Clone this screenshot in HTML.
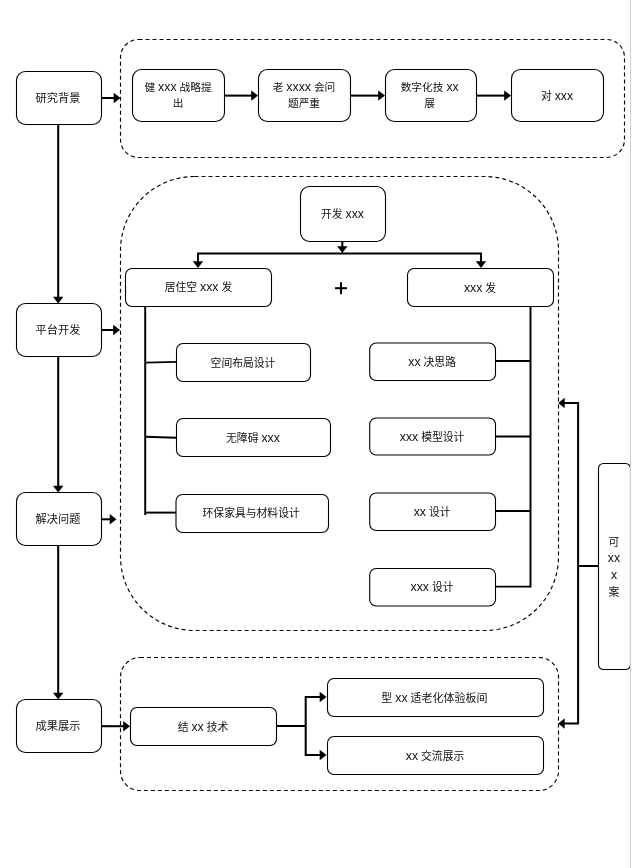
<!DOCTYPE html>
<html lang="zh-CN">
<head>
<meta charset="utf-8">
<title>流程图</title>
<style>
html,body{margin:0;padding:0;background:#fff;}
body{width:632px;height:868px;overflow:hidden;}
svg{display:block;will-change:transform;}
svg text{font-family:'Liberation Sans', 'Noto Sans CJK SC', sans-serif;fill:#111;}
</style>
</head>
<body>
<svg width="632" height="868" viewBox="0 0 632 868">
<rect x="120.5" y="39.5" width="504" height="118" rx="18" ry="18" fill="none" stroke="#000" stroke-width="1.15" stroke-dasharray="4 3"/>
<rect x="120.5" y="176.5" width="438" height="454" rx="74" ry="74" fill="none" stroke="#000" stroke-width="1.15" stroke-dasharray="4 3"/>
<rect x="120.5" y="657.5" width="438" height="133" rx="19.5" ry="19.5" fill="none" stroke="#000" stroke-width="1.15" stroke-dasharray="4 3"/>
<polyline points="58.2,124.5 58.2,298" fill="none" stroke="#000" stroke-width="2.05"/>
<polygon points="58.2,303.5 53,296.7 63.4,296.7" fill="#000"/>
<polyline points="58.2,356 58.2,487" fill="none" stroke="#000" stroke-width="2.05"/>
<polygon points="58.2,492.5 53,485.7 63.4,485.7" fill="#000"/>
<polyline points="58.2,545 58.2,694" fill="none" stroke="#000" stroke-width="2.05"/>
<polygon points="58.2,699.5 53,692.7 63.4,692.7" fill="#000"/>
<polyline points="101.5,98 115,98" fill="none" stroke="#000" stroke-width="2.05"/>
<polygon points="120.5,98 113.7,92.8 113.7,103.2" fill="#000"/>
<polyline points="101.5,330 114,330" fill="none" stroke="#000" stroke-width="2.05"/>
<polygon points="120,330 113.2,324.8 113.2,335.2" fill="#000"/>
<polyline points="101.5,519.3 111,519.3" fill="none" stroke="#000" stroke-width="2.05"/>
<polygon points="116.5,519.3 109.7,514.1 109.7,524.5" fill="#000"/>
<polyline points="101.5,726.2 125,726.2" fill="none" stroke="#000" stroke-width="2.05"/>
<polygon points="130,726.2 123.2,721 123.2,731.4" fill="#000"/>
<rect x="16.5" y="71.5" width="85" height="53" rx="9" ry="9" fill="#fff" stroke="#000" stroke-width="1.1"/>
<text x="58" y="98" text-anchor="middle" dominant-baseline="central" font-size="11.2">研究背景</text>
<rect x="16.5" y="303.5" width="85" height="53" rx="9" ry="9" fill="#fff" stroke="#000" stroke-width="1.1"/>
<text x="58" y="330" text-anchor="middle" dominant-baseline="central" font-size="11.2">平台开发</text>
<rect x="16.5" y="492.5" width="85" height="53" rx="9" ry="9" fill="#fff" stroke="#000" stroke-width="1.1"/>
<text x="58" y="519" text-anchor="middle" dominant-baseline="central" font-size="11.2">解决问题</text>
<rect x="16.5" y="699.5" width="85" height="53" rx="9" ry="9" fill="#fff" stroke="#000" stroke-width="1.1"/>
<text x="58" y="726" text-anchor="middle" dominant-baseline="central" font-size="11.2">成果展示</text>
<polyline points="224.5,95.6 252,95.6" fill="none" stroke="#000" stroke-width="2.05"/>
<polygon points="258,95.6 251.2,90.4 251.2,100.8" fill="#000"/>
<polyline points="350.5,95.6 379,95.6" fill="none" stroke="#000" stroke-width="2.05"/>
<polygon points="385,95.6 378.2,90.4 378.2,100.8" fill="#000"/>
<polyline points="476.5,95.6 505,95.6" fill="none" stroke="#000" stroke-width="2.05"/>
<polygon points="511,95.6 504.2,90.4 504.2,100.8" fill="#000"/>
<rect x="132.5" y="69.5" width="92" height="52" rx="9" ry="9" fill="#fff" stroke="#000" stroke-width="1.1"/>
<text x="178" y="87.2" text-anchor="middle" dominant-baseline="central" font-size="10.7">健 <tspan font-size="12.3">xxx</tspan> 战略提</text>
<text x="178" y="102.5" text-anchor="middle" dominant-baseline="central" font-size="10.7">出</text>
<rect x="258.5" y="69.5" width="92" height="52" rx="9" ry="9" fill="#fff" stroke="#000" stroke-width="1.1"/>
<text x="304" y="87.2" text-anchor="middle" dominant-baseline="central" font-size="10.7">老 <tspan font-size="12.3">xxxx</tspan> 会问</text>
<text x="304" y="102.5" text-anchor="middle" dominant-baseline="central" font-size="10.7">题严重</text>
<rect x="385.5" y="69.5" width="91" height="52" rx="9" ry="9" fill="#fff" stroke="#000" stroke-width="1.1"/>
<text x="429.7" y="87.2" text-anchor="middle" dominant-baseline="central" font-size="10.7">数字化技 <tspan font-size="12.3">xx</tspan></text>
<text x="429.7" y="102.5" text-anchor="middle" dominant-baseline="central" font-size="10.7">展</text>
<rect x="511.5" y="69.5" width="92" height="52" rx="9" ry="9" fill="#fff" stroke="#000" stroke-width="1.1"/>
<text x="557" y="95.5" text-anchor="middle" dominant-baseline="central" font-size="10.8">对 <tspan font-size="12.3">xxx</tspan></text>
<polyline points="342.3,241.5 342.3,247" fill="none" stroke="#000" stroke-width="2.05"/>
<polygon points="342.3,253 337.1,246.2 347.5,246.2" fill="#000"/>
<polyline points="198,263 198,253.5 481,253.5 481,263" fill="none" stroke="#000" stroke-width="1.9"/>
<polygon points="198,268 192.8,261.2 203.2,261.2" fill="#000"/>
<polygon points="481,268 475.8,261.2 486.2,261.2" fill="#000"/>
<rect x="300.5" y="186.5" width="85" height="55" rx="9" ry="9" fill="#fff" stroke="#000" stroke-width="1.1"/>
<text x="342.5" y="214" text-anchor="middle" dominant-baseline="central" font-size="10.8">开发 <tspan font-size="12.3">xxx</tspan></text>
<rect x="125.5" y="268.5" width="146" height="38" rx="6.5" ry="6.5" fill="#fff" stroke="#000" stroke-width="1.1"/>
<text x="198.5" y="287.1" text-anchor="middle" dominant-baseline="central" font-size="10.8">居住空 <tspan font-size="12.3">xxx</tspan> 发</text>
<rect x="407.5" y="268.5" width="146" height="38" rx="6.5" ry="6.5" fill="#fff" stroke="#000" stroke-width="1.1"/>
<text x="480" y="287.5" text-anchor="middle" dominant-baseline="central" font-size="10.8"><tspan font-size="12.3">xxx</tspan> 发</text>
<polyline points="335,288.2 347,288.2" fill="none" stroke="#000" stroke-width="2"/>
<polyline points="341,282.2 341,294.2" fill="none" stroke="#000" stroke-width="2"/>
<polyline points="145.2,306.5 145.2,515" fill="none" stroke="#000" stroke-width="1.95"/>
<polyline points="145.2,362.6 176.5,361.9" fill="none" stroke="#000" stroke-width="1.95"/>
<polyline points="145.2,436.8 176.5,437.7" fill="none" stroke="#000" stroke-width="1.95"/>
<polyline points="145.2,512.6 176.5,512.6" fill="none" stroke="#000" stroke-width="1.95"/>
<rect x="176.5" y="343.5" width="134" height="38" rx="6.5" ry="6.5" fill="#fff" stroke="#000" stroke-width="1.1"/>
<text x="243" y="362.5" text-anchor="middle" dominant-baseline="central" font-size="10.8">空间布局设计</text>
<rect x="176.5" y="418.5" width="154" height="38" rx="6.5" ry="6.5" fill="#fff" stroke="#000" stroke-width="1.1"/>
<text x="253" y="437.5" text-anchor="middle" dominant-baseline="central" font-size="10.8">无障碍 <tspan font-size="12.3">xxx</tspan></text>
<rect x="176" y="494.5" width="152.5" height="38" rx="6.5" ry="6.5" fill="#fff" stroke="#000" stroke-width="1.1"/>
<text x="251.15" y="512.8" text-anchor="middle" dominant-baseline="central" font-size="10.8">环保家具与材料设计</text>
<polyline points="530.5,306.5 530.5,587.5" fill="none" stroke="#000" stroke-width="1.95"/>
<polyline points="495.5,361 530.5,361" fill="none" stroke="#000" stroke-width="1.95"/>
<polyline points="495.5,436.5 530.5,436.5" fill="none" stroke="#000" stroke-width="1.95"/>
<polyline points="495.5,511 530.5,511" fill="none" stroke="#000" stroke-width="1.95"/>
<polyline points="495.5,586.6 530.5,586.6" fill="none" stroke="#000" stroke-width="1.95"/>
<rect x="369.7" y="343" width="125.8" height="37.5" rx="6.5" ry="6.5" fill="#fff" stroke="#000" stroke-width="1.1"/>
<text x="432.1" y="361.75" text-anchor="middle" dominant-baseline="central" font-size="10.8"><tspan font-size="12.3">xx</tspan> 决思路</text>
<rect x="369.7" y="418" width="125.8" height="37" rx="6.5" ry="6.5" fill="#fff" stroke="#000" stroke-width="1.1"/>
<text x="432.1" y="436.5" text-anchor="middle" dominant-baseline="central" font-size="10.8"><tspan font-size="12.3">xxx</tspan> 模型设计</text>
<rect x="369.7" y="493" width="125.8" height="37.5" rx="6.5" ry="6.5" fill="#fff" stroke="#000" stroke-width="1.1"/>
<text x="432.1" y="511.75" text-anchor="middle" dominant-baseline="central" font-size="10.8"><tspan font-size="12.3">xx</tspan> 设计</text>
<rect x="369.7" y="568.5" width="125.8" height="37.5" rx="6.5" ry="6.5" fill="#fff" stroke="#000" stroke-width="1.1"/>
<text x="432.1" y="587.25" text-anchor="middle" dominant-baseline="central" font-size="10.8"><tspan font-size="12.3">xxx</tspan> 设计</text>
<polyline points="598.5,566 578.1,566" fill="none" stroke="#000" stroke-width="2.05"/>
<polyline points="564,403 578.1,403 578.1,723.5 564,723.5" fill="none" stroke="#000" stroke-width="2.05"/>
<polygon points="558.3,403 564.7,397.8 564.7,408.2" fill="#000"/>
<polygon points="558.3,723.5 564.7,718.3 564.7,728.7" fill="#000"/>
<rect x="598.5" y="463.5" width="32" height="206" rx="5" ry="5" fill="#fff" stroke="#000" stroke-width="1.1"/>
<text x="614" y="541.5" text-anchor="middle" dominant-baseline="central" font-size="10.8">可</text>
<text x="614" y="558.3" text-anchor="middle" dominant-baseline="central" font-size="10.8"><tspan font-size="12.3">xx</tspan></text>
<text x="614" y="575.1" text-anchor="middle" dominant-baseline="central" font-size="10.8"><tspan font-size="12.3">x</tspan></text>
<text x="614" y="591.9" text-anchor="middle" dominant-baseline="central" font-size="10.8">案</text>
<rect x="630" y="0" width="2" height="868" fill="#fff"/>
<rect x="630" y="0" width="1" height="868" fill="#d0d0d0"/>
<polyline points="276.5,726 305.7,726" fill="none" stroke="#000" stroke-width="2.05"/>
<polyline points="320,697 305.7,697 305.7,755 320,755" fill="none" stroke="#000" stroke-width="2.05"/>
<polygon points="326.5,697 319.7,691.8 319.7,702.2" fill="#000"/>
<polygon points="326.5,755 319.7,749.8 319.7,760.2" fill="#000"/>
<rect x="130.5" y="707.5" width="146" height="38" rx="6.5" ry="6.5" fill="#fff" stroke="#000" stroke-width="1.1"/>
<text x="203" y="726.5" text-anchor="middle" dominant-baseline="central" font-size="10.8">结 <tspan font-size="12.3">xx</tspan> 技术</text>
<rect x="327.5" y="678.5" width="216" height="38" rx="6.5" ry="6.5" fill="#fff" stroke="#000" stroke-width="1.1"/>
<text x="434.4" y="697.5" text-anchor="middle" dominant-baseline="central" font-size="11">型 <tspan font-size="12.3">xx</tspan> 适老化体验板间</text>
<rect x="327.5" y="736.5" width="216" height="38" rx="6.5" ry="6.5" fill="#fff" stroke="#000" stroke-width="1.1"/>
<text x="435" y="755.5" text-anchor="middle" dominant-baseline="central" font-size="10.8"><tspan font-size="12.3">xx</tspan> 交流展示</text>
</svg>
</body>
</html>
